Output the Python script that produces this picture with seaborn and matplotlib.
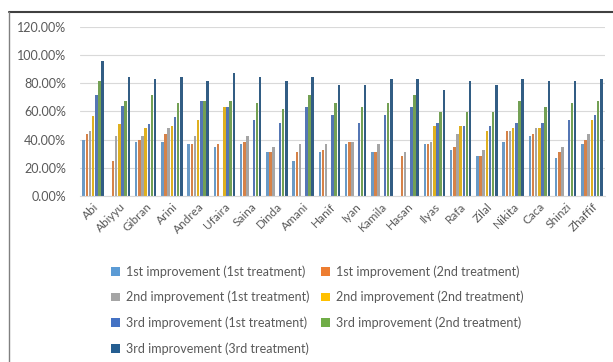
import numpy as np
import pandas as pd
import seaborn as sns
import matplotlib.pyplot as plt
from matplotlib.patches import Patch
from matplotlib.lines import Line2D

names = ["Abi", "Abiyyu", "Gibran", "Arini", "Andrea", "Ufaira", "Saina", "Dinda",
         "Amani", "Hanif", "Iyan", "Kamila", "Hasan", "Ilyas", "Rafa", "Zilal",
         "Nikita", "Caca", "Shinzi", "Zhaffif"]

imp1_t1 = [40.0, 0.0, 38.3, 38.3, 36.9, 34.5, 36.9, 31.2, 25.2, 31.2,
           36.9, 31.2, 0.0, 36.9, 32.9, 28.6, 38.3, 42.4, 26.9, 36.9]
imp1_t2 = [44.3, 25.2, 40.0, 44.3, 36.9, 36.9, 38.3, 31.2, 31.2, 32.9,
           38.3, 31.2, 28.6, 36.9, 34.5, 28.6, 46.0, 44.3, 31.2, 40.0]
imp2_t1 = [46.0, 42.4, 42.4, 48.3, 42.4, 0.0, 42.4, 34.5, 36.9, 36.9,
           38.3, 36.9, 31.2, 38.3, 44.3, 32.9, 46.0, 48.3, 34.5, 44.3]
imp2_t2 = [57.0, 51.4, 48.3, 50.0, 54.3, 63.3, 0.0, 0.0, 0.0, 0.0,
           0.0, 0.0, 0.0, 50.0, 50.0, 46.0, 48.3, 48.3, 0.0, 54.3]
imp3_t1 = [71.4, 63.8, 51.4, 56.0, 67.6, 63.3, 54.3, 51.7, 63.3, 57.4,
           51.7, 57.4, 63.3, 51.7, 50.0, 50.0, 51.7, 51.7, 54.3, 57.4]
imp3_t2 = [81.4, 67.4, 71.4, 65.7, 67.6, 67.6, 65.7, 61.7, 71.4, 65.7,
           63.3, 65.7, 71.4, 60.0, 60.0, 60.0, 67.6, 63.3, 65.7, 67.6]
imp3_t3 = [96.2, 84.8, 82.9, 84.8, 81.4, 87.1, 84.8, 81.4, 84.8, 78.8,
           78.8, 82.9, 82.9, 75.5, 81.4, 78.8, 82.9, 81.4, 81.4, 82.9]

series_names = ["1st improvement (1st treatment)", "1st improvement (2nd treatment)",
                "2nd improvement (1st treatment)", "2nd improvement (2nd treatment)",
                "3rd improvement (1st treatment)", "3rd improvement (2nd treatment)",
                "3rd improvement (3rd treatment)"]
series_values = [imp1_t1, imp1_t2, imp2_t1, imp2_t2, imp3_t1, imp3_t2, imp3_t3]
colors = ["#5B9BD5", "#ED7D31", "#A5A5A5", "#FFC000", "#4472C4", "#70AD47", "#255E91"]

rows = []
for s, vals in zip(series_names, series_values):
    for n, v in zip(names, vals):
        rows.append({"name": n, "series": s, "value": v / 100.0})
df = pd.DataFrame(rows)

sns.set_theme(style="white")
plt.rcParams["font.family"] = ["Lato", "DejaVu Sans"]

fig = plt.figure(figsize=(6.13, 3.62), dpi=100)
ax = fig.add_axes([80 / 613, 1 - 196 / 362, 525 / 613, 169 / 362])

sns.barplot(data=df, x="name", y="value", hue="series", order=names,
            hue_order=series_names, palette=colors, width=0.84, gap=0.2,
            linewidth=0, errorbar=None, legend=False, ax=ax)

ax.set_ylim(0, 1.2)
ax.set_yticks(np.arange(0, 1.21, 0.2))
ax.set_yticklabels([f"{v * 100:.2f}%" for v in np.arange(0, 1.21, 0.2)])
ax.set_xlim(-0.5, len(names) - 0.5)
ax.yaxis.grid(True, color="#D9D9D9", linewidth=0.8)
ax.set_axisbelow(True)
for side in ["top", "right", "left"]:
    ax.spines[side].set_visible(False)
ax.spines["bottom"].set_color("#D9D9D9")
ax.spines["bottom"].set_linewidth(0.8)
ax.set_xlabel("")
ax.set_ylabel("")
ax.tick_params(axis="both", length=0, colors="#595959", labelsize=9)
ax.tick_params(axis="x", labelsize=8.5)
ax.tick_params(axis="y", pad=10)
plt.setp(ax.get_xticklabels(), rotation=45, ha="right", rotation_mode="anchor")

handles = [Patch(facecolor=c, edgecolor="none") for c in colors]
order = [0, 2, 4, 6, 1, 3, 5]
leg = fig.legend([handles[i] for i in order], [series_names[i] for i in order],
                 ncol=2, loc="upper left", bbox_to_anchor=(100 / 613, 1 - 254 / 362),
                 frameon=False, fontsize=9, handlelength=0.7, handleheight=0.7,
                 handletextpad=0.5, columnspacing=0.9, labelspacing=1.05)
for t in leg.get_texts():
    t.set_color("#595959")

# chart frame edges
fig.add_artist(Line2D([9 / 613, 1.0], [1 - 12 / 362, 1 - 12 / 362],
                      transform=fig.transFigure, color="#404040", linewidth=1.5))
fig.add_artist(Line2D([9 / 613, 9 / 613], [0.0, 1 - 12 / 362],
                      transform=fig.transFigure, color="#808080", linewidth=1.0))

fig.savefig("out.png", dpi=100)
